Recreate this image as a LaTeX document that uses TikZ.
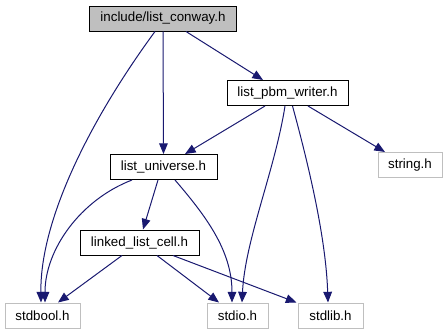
\documentclass[tikz,border=0pt]{standalone}
\usepackage{fontspec}
\setmainfont{Liberation Sans}
\usetikzlibrary{arrows.meta,calc}
\definecolor{edgeblue}{HTML}{191970}
\definecolor{sysgray}{HTML}{BFBFBF}
\begin{document}
\begin{tikzpicture}[x=0.75pt,y=-0.75pt,
  hdr/.style={draw=black,line width=0.75pt,minimum height=18.75pt,inner sep=0pt,
    font=\fontsize{10pt}{12pt}\selectfont},
  mainhdr/.style={hdr,fill=sysgray},
  syshdr/.style={hdr,draw=sysgray},
  dep/.style={draw=edgeblue,line width=0.75pt,-{Triangle[length=8pt,width=6.5pt]},edgeblue}]
\useasboundingbox (0,0) rectangle (447,336);
% header nodes
\node[mainhdr,minimum width=110.25pt] (conway) at (163,18.5) {include/list\_conway.h};
\node[hdr,minimum width=90.75pt] (pbm) at (287.5,93) {list\_pbm\_writer.h};
\node[syshdr,minimum width=48pt] (string) at (410,165) {string.h};
\node[hdr,minimum width=80.25pt] (universe) at (163.5,167) {list\_universe.h};
\node[hdr,minimum width=89.25pt] (linked) at (139.5,242.5) {linked\_list\_cell.h};
\node[syshdr,minimum width=56.25pt] (stdbool) at (42.5,315.5) {stdbool.h};
\node[syshdr,minimum width=45.75pt] (stdio) at (237.5,315.5) {stdio.h};
\node[syshdr,minimum width=48.75pt] (stdlib) at (330.5,315.5) {stdlib.h};
% include edges
\draw[dep] ($(conway.south)+(-8,0)$) .. controls (90,120) and (40,220) .. ($(stdbool.north)+(-1.5,0)$);
\draw[dep] (conway.south) -- (universe.north);
\draw[dep] ($(conway.south)+(23,0)$) -- ($(pbm.north)+(-24.5,0)$);
\draw[dep] ($(pbm.south)+(-22.5,0)$) -- ($(universe.north)+(21.5,0)$);
\draw[dep] ($(pbm.south)+(-2.5,0)$) .. controls (275,170) and (245,240) .. ($(stdio.north)+(4.5,0)$);
\draw[dep] ($(pbm.south)+(5,0)$) .. controls (310,170) and (326,240) .. ($(stdlib.north)+(-2.5,0)$);
\draw[dep] ($(pbm.south)+(20.5,0)$) -- ($(string.north)+(-25,0)$);
\draw[dep] ($(universe.south)+(-31.5,0)$) .. controls (80,200) and (45,250) .. ($(stdbool.north)+(2.5,0)$);
\draw[dep] ($(universe.south)+(-5.5,0)$) -- ($(linked.north)+(3.5,0)$);
\draw[dep] ($(universe.south)+(11.5,0)$) .. controls (205,215) and (232,250) .. ($(stdio.north)+(-5.5,0)$);
\draw[dep] ($(linked.south)+(-17.5,0)$) -- ($(stdbool.north)+(15.5,0)$);
\draw[dep] ($(linked.south)+(17.5,0)$) -- ($(stdio.north)+(-18.5,0)$);
\draw[dep] ($(linked.south)+(33.5,0)$) -- ($(stdlib.north west)+(-1,0)$);
\end{tikzpicture}
\end{document}
